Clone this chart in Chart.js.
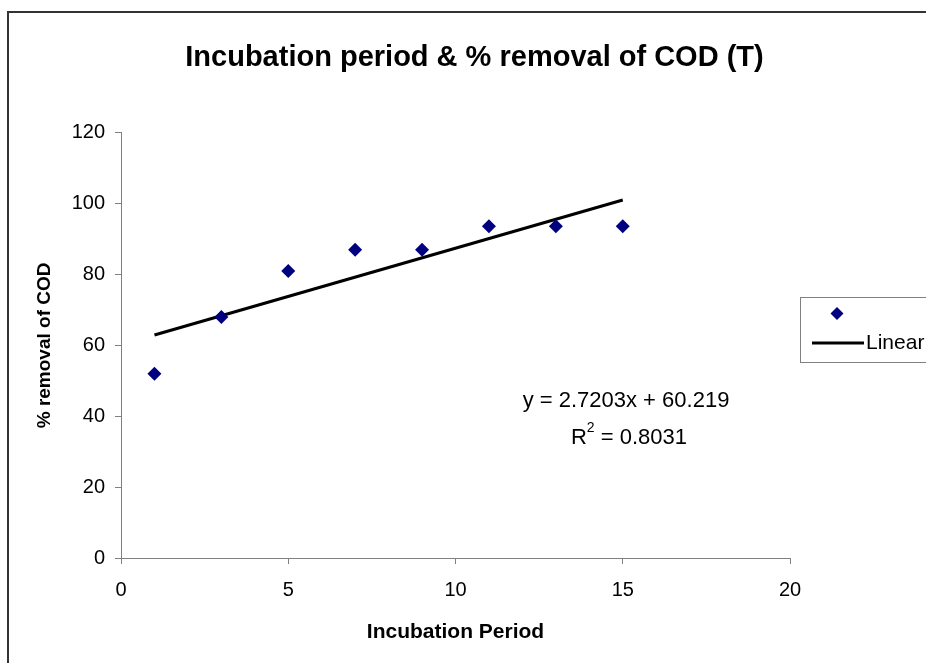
<!DOCTYPE html>
<html>
<head>
<meta charset="utf-8">
<script src="https://cdn.jsdelivr.net/npm/chart.js@4.4.1/dist/chart.umd.min.js"></script>
<style>
  html, body { margin: 0; padding: 0; background: #fff; overflow: hidden; }
  #wrap { position: relative; width: 926px; height: 663px; }
</style>
</head>
<body>
<div id="wrap"><canvas id="chart" width="926" height="663"></canvas></div>
<script>
// data
const incubation = [1, 3, 5, 7, 9, 11, 13, 15];
const codRemoval = [52, 68, 81, 87, 87, 93.6, 93.6, 93.6];
const trendX = [1, 15];
const trendY = [62.94, 101.02];
const xTicks = [0, 5, 10, 15, 20];
const yTicks = [0, 20, 40, 60, 80, 100, 120];
const equationText = 'y = 2.7203x + 60.219';
const rSquaredText = '= 0.8031';

const FONT = 'Arial, "Liberation Sans", sans-serif';
const AXIS_GREY = '#808080';
const NAVY = '#000080';

// frame, legend box and trend label (Excel style)
const excelDecor = {
    id: 'excelDecor',
    beforeDraw(chart) {
        const ctx = chart.ctx;
        ctx.save();
        ctx.fillStyle = '#fff';
        ctx.fillRect(0, 0, chart.width, chart.height);
        ctx.strokeStyle = '#333';
        ctx.lineWidth = 2;
        ctx.strokeRect(8, 12, 2000, 2000);
        ctx.restore();
    },
    afterDraw(chart) {
        const ctx = chart.ctx;
        ctx.save();

        // legend box, cut off by the right edge like the reference
        ctx.strokeStyle = AXIS_GREY;
        ctx.lineWidth = 1;
        ctx.strokeRect(800.5, 297.5, 300, 65);

        ctx.fillStyle = NAVY;
        ctx.beginPath();
        ctx.moveTo(837, 307);
        ctx.lineTo(843.5, 313.5);
        ctx.lineTo(837, 320);
        ctx.lineTo(830.5, 313.5);
        ctx.closePath();
        ctx.fill();

        ctx.strokeStyle = '#000';
        ctx.lineWidth = 3;
        ctx.beginPath();
        ctx.moveTo(812, 343);
        ctx.lineTo(864, 343);
        ctx.stroke();

        ctx.fillStyle = '#000';
        ctx.font = '21px ' + FONT;
        ctx.textBaseline = 'middle';
        ctx.textAlign = 'left';
        ctx.fillText('Linear', 866, 343);

        // trend equation
        ctx.font = '22px ' + FONT;
        ctx.textAlign = 'center';
        ctx.fillText(equationText, 626, 401);

        const rW = ctx.measureText('R').width;
        ctx.font = '14px ' + FONT;
        const supW = ctx.measureText('2').width;
        ctx.font = '22px ' + FONT;
        const restW = ctx.measureText(' ' + rSquaredText).width;
        const x = 629 - (rW + supW + restW) / 2;
        ctx.textAlign = 'left';
        ctx.fillText('R', x, 438);
        ctx.font = '14px ' + FONT;
        ctx.fillText('2', x + rW, 428);
        ctx.font = '22px ' + FONT;
        ctx.fillText(' ' + rSquaredText, x + rW + supW, 438);

        ctx.restore();
    }
};

new Chart(document.getElementById('chart'), {
    type: 'scatter',
    data: {
        datasets: [
            {
                label: '',
                data: incubation.map((x, i) => ({ x, y: codRemoval[i] })),
                pointStyle: 'rectRot',
                pointRadius: 7,
                pointHoverRadius: 7,
                backgroundColor: NAVY,
                borderColor: NAVY,
                borderWidth: 0,
                order: 1
            },
            {
                label: 'Linear',
                type: 'line',
                data: trendX.map((x, i) => ({ x, y: trendY[i] })),
                borderColor: '#000',
                borderWidth: 3,
                pointRadius: 0,
                fill: false,
                order: 2
            }
        ]
    },
    options: {
        responsive: false,
        animation: false,
        events: [],
        layout: { padding: { left: 23, right: 0, top: 0, bottom: 0 } },
        plugins: {
            legend: { display: false },
            tooltip: { enabled: false },
            title: {
                display: true,
                text: 'Incubation period & % removal of COD (T)',
                color: '#000',
                font: { family: FONT, size: 29, weight: 'bold' },
                padding: { top: 41, bottom: 57 }
            }
        },
        scales: {
            x: {
                type: 'linear',
                min: xTicks[0],
                max: xTicks[xTicks.length - 1],
                afterBuildTicks: s => { s.ticks = xTicks.map(v => ({ value: v })); },
                afterFit: s => { s.height = 105; },
                grid: { drawOnChartArea: false, drawTicks: true, tickLength: 6, color: AXIS_GREY },
                border: { display: true, color: AXIS_GREY, width: 1 },
                ticks: { color: '#000', padding: 14, font: { family: FONT, size: 20 } },
                title: {
                    display: true,
                    text: 'Incubation Period',
                    color: '#000',
                    font: { family: FONT, size: 21, weight: 'bold' },
                    padding: { top: 0, bottom: 18 }
                }
            },
            y: {
                type: 'linear',
                min: yTicks[0],
                max: yTicks[yTicks.length - 1],
                afterBuildTicks: s => { s.ticks = yTicks.map(v => ({ value: v })); },
                afterFit: s => { s.width = 98; },
                grid: { drawOnChartArea: false, drawTicks: true, tickLength: 6, color: AXIS_GREY },
                border: { display: true, color: AXIS_GREY, width: 1 },
                ticks: { color: '#000', padding: 10, font: { family: FONT, size: 20 } },
                title: {
                    display: true,
                    text: '% removal of COD',
                    color: '#000',
                    font: { family: FONT, size: 19, weight: 'bold' },
                    padding: { top: 10, bottom: 0 }
                }
            },
            // empty right-hand axis that keeps room for the legend
            yRight: {
                type: 'linear',
                position: 'right',
                display: true,
                afterFit: s => { s.width = 136; },
                grid: { display: false },
                border: { display: false },
                ticks: { display: false }
            }
        }
    },
    plugins: [excelDecor]
});
</script>
</body>
</html>
